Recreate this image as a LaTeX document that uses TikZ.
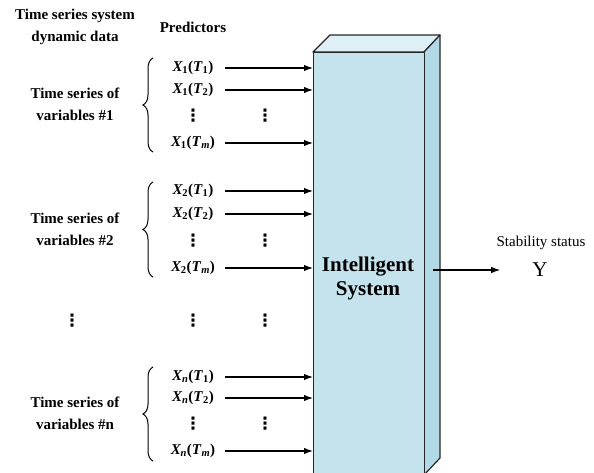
\documentclass[tikz,border=0pt]{standalone}
\usepackage{fontspec}
\setmainfont{Liberation Serif}
\newfontfamily\dvfont{DejaVu Sans}
\usetikzlibrary{arrows.meta,decorations.pathreplacing}
\definecolor{frontc}{RGB}{197,227,236}
\definecolor{topc}{RGB}{222,240,246}
\definecolor{sidec}{RGB}{178,218,230}
\newcommand{\xv}[2]{\textbf{\textit{X}\kern-0.5pt\textsubscript{#1}(\textit{T}\textsubscript{#2})}}
\begin{document}
\begin{tikzpicture}[x=1pt,y=-1pt,
 lbl/.style={font=\bfseries\fontsize{15}{22}\selectfont, align=center, inner sep=0pt},
 pred/.style={font=\fontsize{15}{17}\selectfont, inner sep=0pt},
 arr/.style={-{Latex[length=9pt,width=6.5pt]}, line width=1.2pt},
 vd/.style={font=\dvfont\bfseries\fontsize{17}{17}\selectfont, inner sep=0pt},
 brc/.style={decorate, decoration={brace, amplitude=10pt}, line width=1pt},
 face/.style={draw=black!85, line width=1.2pt, line join=round}
]
\useasboundingbox (0,0) rectangle (594,473);
\clip (0,0) rectangle (594,473);

% box
\filldraw[face, fill=topc] (313,52) -- (330,35) -- (440,35) -- (424,52) -- cycle;
\filldraw[face, fill=sidec] (424,52) -- (440,35) -- (440,458) -- (424,475) -- cycle;
\node[face, fill=frontc, minimum width=111pt, minimum height=440pt, anchor=north west, inner sep=0pt] (box) at (313,52) {};
\node[font=\bfseries\fontsize{21}{24}\selectfont, align=center] (sys) at (368,278) {Intelligent\\System};

% headers
\node[lbl] (hdr1) at (75,27) {Time series system\\dynamic data};
\node[lbl] (hdr2) at (193,27) {Predictors};

\coordinate (ax) at (225,0);

% group 1
\node[lbl] (g1) at (75,104) {Time series of\\variables \#1};
\draw[brc] (153,152) -- (153,58);
\node[pred] (p11) at (193,68) {\xv{1}{1}};
\node[pred] (p12) at (193,90) {\xv{1}{2}};
\node[vd] (d11) at (193,116) {⋮};
\node[vd] (d12) at (265,116) {⋮};
\node[pred] (p1m) at (193,143) {\xv{1}{\textit{m}}};
\foreach \n in {p11,p12,p1m} \draw[arr] (\n -| ax) -- (\n -| box.west);

% group 2
\node[lbl] (g2) at (75,229) {Time series of\\variables \#2};
\draw[brc] (153,277) -- (153,182);
\node[pred] (p21) at (193,191) {\xv{2}{1}};
\node[pred] (p22) at (193,214) {\xv{2}{2}};
\node[vd] (d21) at (193,241) {⋮};
\node[vd] (d22) at (265,241) {⋮};
\node[pred] (p2m) at (193,268) {\xv{2}{\textit{m}}};
\foreach \n in {p21,p22,p2m} \draw[arr] (\n -| ax) -- (\n -| box.west);

% middle dots
\node[vd] (dm0) at (72,321) {⋮};
\node[vd] (dm1) at (193,321) {⋮};
\node[vd] (dm2) at (265,321) {⋮};

% group n
\node[lbl] (gn) at (75,413) {Time series of\\variables \#n};
\draw[brc] (153,461) -- (153,367);
\node[pred] (pn1) at (193,377) {\xv{\textit{n}}{1}};
\node[pred] (pn2) at (193,398) {\xv{\textit{n}}{2}};
\node[vd] (dn1) at (193,424) {⋮};
\node[vd] (dn2) at (265,424) {⋮};
\node[pred] (pnm) at (193,451) {\xv{\textit{n}}{\textit{m}}};
\foreach \n in {pn1,pn2,pnm} \draw[arr] (\n -| ax) -- (\n -| box.west);

% output
\node[font=\fontsize{15}{17}\selectfont, inner sep=0pt] (stab) at (541,243) {Stability status};
\node[font=\fontsize{21}{24}\selectfont, inner sep=0pt] (Y) at (540,270) {Y};
\coordinate (ostart) at (433,270);
\draw[arr] (ostart) -- ([xshift=-32pt]Y.west);
\end{tikzpicture}
\end{document}
